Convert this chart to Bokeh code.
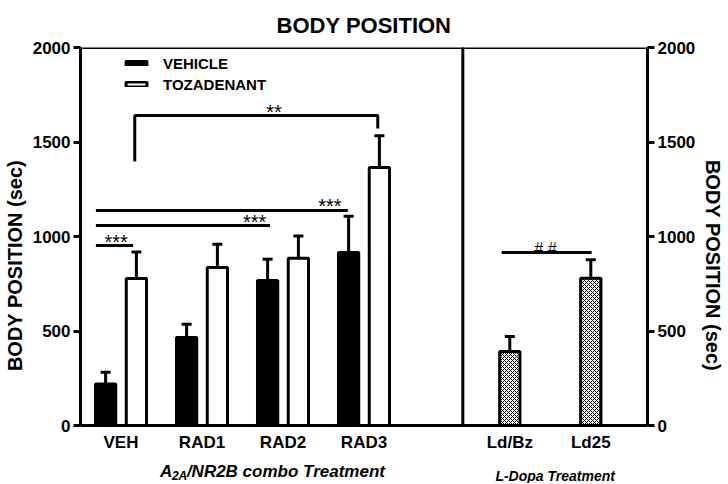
from bokeh.plotting import figure
from bokeh.models import (ColumnDataSource, Whisker, TeeHead, Legend,
                          LegendItem, FixedTicker, Range1d, LinearAxis)
from bokeh.embed import file_html
from bokeh.resources import INLINE
from bokeh.core.properties import value

# ---------------- data ----------------
groups = ["VEH", "RAD1", "RAD2", "RAD3"]
vehicle_mean = [220, 465, 767, 915]
vehicle_sem = [62, 71, 113, 192]
toz_mean = [778, 836, 885, 1365]
toz_sem = [140, 123, 118, 168]
ldopa_groups = ["Ld/Bz", "Ld25"]
ldopa_mean = [392, 779]
ldopa_sem = [79, 98]
y_ticks = [0, 500, 1000, 1500, 2000]

# significance annotations
sig_start = [0.69, 0.69, 0.69]
sig_end = [1.15, 2.84, 3.80]
sig_level = [952, 1058, 1138]
sig_text_x = [0.94, 2.65, 3.58]
sig_labels = ["***", "***", "***"]
bracket_left_low, bracket_top, bracket_right_low = 1397, 1640, 1571
ld_sig_level = 915

# ---------------- layout helpers ----------------
FONT = "Liberation Sans"
Y_MAX = 2000
FRAME_W, PLOT_H, EXTRA_BOTTOM = 567, 378, 58
y_low = -Y_MAX * EXTRA_BOTTOM / PLOT_H
u = Y_MAX / PLOT_H  # data units per pixel

group_x = [i + 1 for i in range(len(groups))]
ldopa_x = [5.8, 6.8]
x_lo, x_hi = 0.5, 7.5
divider_x = 5.22
off = 0.19
bw = 0.25

veh_x = [g - off for g in group_x]
toz_x = [g + off for g in group_x]

p = figure(frame_width=FRAME_W, frame_height=PLOT_H + EXTRA_BOTTOM,
           x_range=Range1d(x_lo, x_hi), y_range=Range1d(y_low, Y_MAX),
           output_backend="svg", toolbar_location=None,
           min_border_top=46, min_border_bottom=0,
           min_border_left=0, min_border_right=0,
           title="BODY POSITION")

p.title.text_font = FONT
p.title.text_font_size = "22px"
p.title.text_font_style = "bold"
p.title.align = "center"
p.title.text_color = "black"
p.title.standoff = 20

p.grid.visible = False
p.outline_line_color = None
p.background_fill_color = "white"
p.border_fill_color = "white"

# bars
src_v = ColumnDataSource(dict(x=veh_x, top=vehicle_mean,
                              upper=[m + s for m, s in zip(vehicle_mean, vehicle_sem)]))
src_t = ColumnDataSource(dict(x=toz_x, top=toz_mean,
                              upper=[m + s for m, s in zip(toz_mean, toz_sem)]))
src_l = ColumnDataSource(dict(x=ldopa_x, top=ldopa_mean,
                              upper=[m + s for m, s in zip(ldopa_mean, ldopa_sem)]))

for src in (src_v, src_t, src_l):
    w = Whisker(source=src, base="x", lower="top", upper="upper",
                line_width=3, line_color="black",
                upper_head=TeeHead(size=10, line_width=3, line_color="black"),
                lower_head=None)
    p.add_layout(w)

rv = p.vbar(x="x", top="top", width=bw, source=src_v, fill_color="black",
            line_color="black", line_width=3)
rt = p.vbar(x="x", top="top", width=bw, source=src_t, fill_color="white",
            line_color="black", line_width=3)
rl = p.vbar(x="x", top="top", width=bw, source=src_l, fill_color="white",
            line_color="black", line_width=3, hatch_pattern="diagonal_cross",
            hatch_scale=4, hatch_weight=1, hatch_color="black")

# frame lines: bottom axis line, top border, divider
p.segment(x0=[x_lo, x_lo, divider_x], x1=[x_hi, x_hi, divider_x],
          y0=[0, Y_MAX, 0], y1=[0, Y_MAX, Y_MAX],
          line_color="black", line_width=3, line_cap="square")

# significance lines
p.segment(x0=sig_start, x1=sig_end, y0=sig_level, y1=sig_level, line_color="black", line_width=3)
p.text(x=sig_text_x, y=[v + 4 * u for v in sig_level], text=sig_labels,
       text_font=value(FONT), text_font_size="20px", text_align="center",
       text_baseline="alphabetic", text_color="black")

# bracket **
p.multi_line(xs=[[toz_x[0] - 0.02, toz_x[0] - 0.02, toz_x[3] - 0.02, toz_x[3] - 0.02]],
             ys=[[bracket_left_low, bracket_top, bracket_top, bracket_right_low]],
             line_color="black", line_width=3)
p.text(x=[(toz_x[0] + toz_x[3]) / 2 + 0.2], y=[bracket_top + 4 * u], text=["**"],
       text_font=value(FONT), text_font_size="20px", text_align="center",
       text_baseline="alphabetic", text_color="black")

# ## line
p.segment(x0=[ldopa_x[0] - 0.1], x1=[ldopa_x[1] + 0.01], y0=[ld_sig_level], y1=[ld_sig_level],
          line_color="black", line_width=3)
p.text(x=[(ldopa_x[0] + ldopa_x[1]) / 2 - 0.06], y=[ld_sig_level + 4 * u], text=["# #"],
       text_font=value(FONT), text_font_size="16px", text_align="center",
       text_baseline="alphabetic", text_color="black")

# y axes
right = LinearAxis()
p.add_layout(right, "right")

for ax in (p.yaxis[0], right):
    ax.ticker = FixedTicker(ticks=y_ticks)
    ax.bounds = (0, Y_MAX)
    ax.axis_label = "BODY POSITION (sec)"
    ax.axis_label_text_font = FONT
    ax.axis_label_text_font_size = "20px"
    ax.axis_label_text_font_style = "bold"
    ax.axis_label_text_color = "black"
    ax.axis_label_standoff = 4
    ax.major_label_text_font = FONT
    ax.major_label_text_font_size = "17px"
    ax.major_label_text_font_style = "bold"
    ax.major_label_text_color = "black"
    ax.major_label_standoff = 3
    ax.axis_line_width = 3
    ax.axis_line_color = "black"
    ax.major_tick_line_width = 3
    ax.major_tick_line_color = "black"
    ax.major_tick_out = 7
    ax.major_tick_in = 0
    ax.minor_tick_line_color = None

p.xaxis.visible = False

# x tick labels (drawn inside the extended frame)
p.text(x=group_x + ldopa_x, y=[-17 * u] * (len(group_x) + len(ldopa_x)),
       text=groups + ldopa_groups, text_font=value(FONT), text_font_size="17px",
       text_font_style="bold", text_align="center", text_baseline="middle",
       text_color="black")

# group labels with subscript
kw = dict(text_font=value(FONT), text_font_style="bold italic", text_color="black",
          text_baseline="alphabetic")
p.text(x=[1.48], y=[-46 * u], text=["A"], text_font_size="17px", text_align="left", **kw)
p.text(x=[1.48], y=[-50 * u], x_offset=12, text=["2A"], text_font_size="12px",
       text_align="left", **kw)
p.text(x=[1.48], y=[-46 * u], x_offset=27, text=["/NR2B combo Treatment"],
       text_font_size="17px", text_align="left", **kw)
p.text(x=[6.36], y=[-50 * u], text=["L-Dopa Treatment"], text_font_size="14px",
       text_align="center", **kw)

# legend
legend = Legend(items=[LegendItem(label="VEHICLE", renderers=[rv]),
                       LegendItem(label="TOZADENANT", renderers=[rt])],
                location=(43, PLOT_H + EXTRA_BOTTOM - 6 - 41), orientation="vertical",
                glyph_width=26, glyph_height=6, label_standoff=14, label_height=20,
                label_text_font=FONT, label_text_font_size="15px",
                label_text_font_style="bold", label_text_color="black",
                spacing=1, padding=0, margin=0,
                border_line_color=None, background_fill_alpha=0)
p.add_layout(legend)

open("out.html", "w").write(file_html(p, INLINE))
